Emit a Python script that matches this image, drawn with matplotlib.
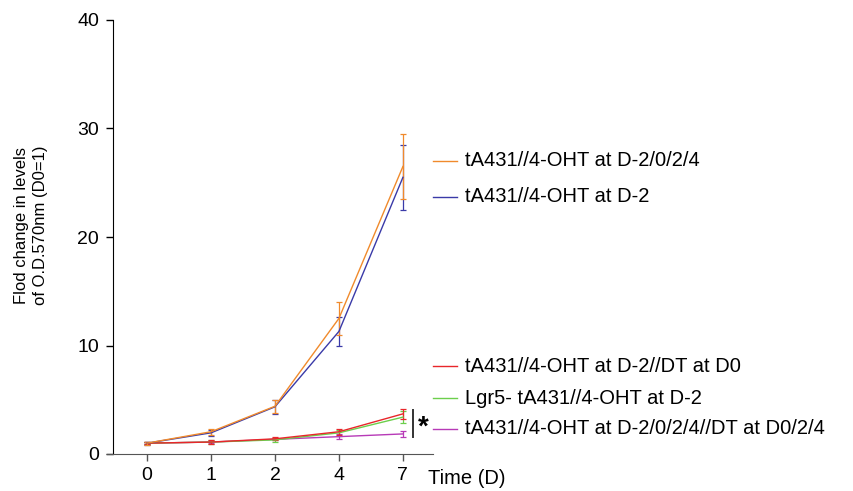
import matplotlib.pyplot as plt
from matplotlib.lines import Line2D

plt.rcParams['font.family'] = ['Liberation Sans', 'DejaVu Sans']

days = ['0', '1', '2', '4', '7']
labels = ['tA431//4-OHT at D-2/0/2/4',
          'tA431//4-OHT at D-2',
          'tA431//4-OHT at D-2//DT at D0',
          'Lgr5- tA431//4-OHT at D-2',
          'tA431//4-OHT at D-2/0/2/4//DT at D0/2/4']
colors = ['#f08a2c', '#3a3aa8', '#e8262a', '#6ccf4c', '#b73ab7']

orange = [1.0, 2.05, 4.4, 12.5, 26.5]
orange_err = [0.15, 0.3, 0.6, 1.5, 3.0]
blue = [1.0, 1.95, 4.35, 11.3, 25.5]
blue_err = [0.15, 0.3, 0.65, 1.3, 3.0]
red = [1.0, 1.1, 1.4, 2.05, 3.7]
red_err = [0.1, 0.15, 0.15, 0.3, 0.45]
green = [1.0, 1.1, 1.3, 1.95, 3.4]
green_err = [0.1, 0.15, 0.15, 0.3, 0.55]
magenta = [1.0, 1.1, 1.35, 1.6, 1.85]
magenta_err = [0.1, 0.1, 0.1, 0.2, 0.25]

series = [orange, blue, red, green, magenta]
errors = [orange_err, blue_err, red_err, green_err, magenta_err]

fig = plt.figure(figsize=(8.54, 4.91), dpi=100)
W, H = 854, 491
ax = fig.add_axes([107 / W, 1 - 454 / H, 326 / W, 434 / H])

x = list(range(len(days)))
# bottom series first so the orange sits on top
for i in [4, 3, 2, 1, 0]:
    ax.errorbar(x, series[i], yerr=errors[i], color=colors[i], lw=1.0,
                elinewidth=0.9, capsize=2.5, capthick=0.9)

ax.set_xlim(-0.625, 4.47)
ax.set_ylim(0, 40)
ax.set_yticks([0, 10, 20, 30, 40])
ax.set_xticks(x)
ax.set_xticklabels(days)
ax.tick_params(labelsize=14, length=5, width=1)
ax.tick_params(axis='x', colors='#555555', labelcolor='black', pad=4)
ax.tick_params(axis='y', pad=5)
ax.spines['top'].set_visible(False)
ax.spines['right'].set_visible(False)
ax.spines['left'].set_position(('outward', -4.3))
ax.spines['bottom'].set_color('#555555')

fig.text(428 / W, 1 - 479 / H, 'Time (D)', fontsize=14.5, va='center')
fig.text(31 / W, 1 - 225 / H, 'Flod change in levels\nof O.D.570nm (D0=1)',
         rotation=90, fontsize=12, ha='center', va='center',
         multialignment='center', linespacing=1.4)

# significance bracket
fig.add_artist(Line2D([413 / W, 413 / W], [1 - 410 / H, 1 - 437 / H],
                      color='#333333', lw=1.4))
fig.text(423 / W, 1 - 428 / H, '*', fontsize=20, fontweight='bold',
         ha='center', va='center')

# legend entries
legend_y = [161, 197, 366, 398, 429]
for lab, col, yp in zip(labels, colors, legend_y):
    fig.add_artist(Line2D([433 / W, 457 / W], [1 - yp / H, 1 - yp / H],
                          color=col, lw=1.0))
    fig.text(465 / W, 1 - yp / H, lab, fontsize=14.5, va='center')

fig.savefig('out.png', dpi=100)
